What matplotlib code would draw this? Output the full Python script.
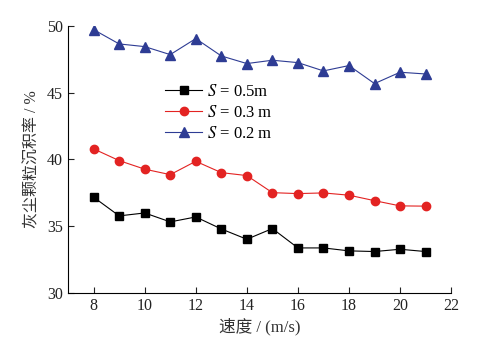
import matplotlib
matplotlib.use("Agg")
import matplotlib.pyplot as plt

speed = [8, 9, 10, 11, 12, 13, 14, 15, 16, 17, 18, 19, 20, 21]
s05 = [37.17, 35.77, 35.99, 35.32, 35.69, 34.79, 34.02, 34.82, 33.37, 33.37, 33.15, 33.10, 33.27, 33.10]
s03 = [40.79, 39.91, 39.27, 38.86, 39.86, 39.01, 38.79, 37.51, 37.44, 37.49, 37.32, 36.91, 36.52, 36.50]
s02 = [49.72, 48.65, 48.45, 47.85, 49.05, 47.75, 47.18, 47.43, 47.25, 46.63, 47.03, 45.68, 46.53, 46.40]
labels = ['$S$ = 0.5m', '$S$ = 0.3 m', '$S$ = 0.2 m']

plt.rcParams['font.family'] = ['Liberation Serif', 'Noto Sans CJK SC']
plt.rcParams['mathtext.fontset'] = 'stix'

fig = plt.figure(figsize=(4.83, 3.41), dpi=100)
ax = fig.add_axes([0.141, 0.141, 0.793, 0.783])

ax.plot(speed, s05, color='black', marker='s', markersize=5.5, linewidth=0.8, label=labels[0])
ax.plot(speed, s03, color='#e32322', marker='o', markersize=6, linewidth=0.8, label=labels[1])
ax.plot(speed, s02, color='#2e3c94', marker='^', markersize=6.5, linewidth=0.8, label=labels[2])

ax.set_xlim(7, 22)
ax.set_ylim(30, 50)
ax.set_xticks(range(8, 23, 2))
ax.set_yticks(range(30, 51, 5))
ax.spines['top'].set_visible(False)
ax.spines['right'].set_visible(False)
ax.tick_params(direction='in', labelsize=11.5, length=4, colors='#222222')

ax.set_xlabel('速度 / (m/s)', fontsize=12, color='#333333', labelpad=3)
ax.set_ylabel('灰尘颗粒沉积率 / %', fontsize=11.5, color='#333333', labelpad=5)

ax.legend(loc='upper left', bbox_to_anchor=(0.215, 0.84), frameon=False,
          fontsize=12, handlelength=2.2, handletextpad=0.3, labelspacing=0.3)

fig.savefig('out.png', dpi=100)
